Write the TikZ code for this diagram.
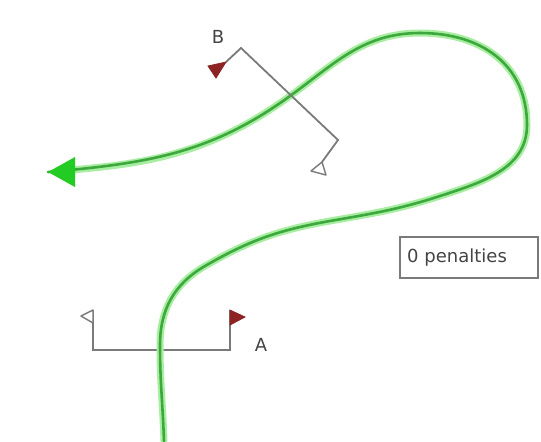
\documentclass[tikz,border=0pt]{standalone}
\usepackage{fontspec}
\setmainfont{DejaVu Sans}
\usetikzlibrary{arrows.meta}
\definecolor{railgray}{HTML}{7A7A7A}
\definecolor{flagred}{HTML}{8E2323}
\definecolor{pathglow}{HTML}{A8EEA0}
\definecolor{pathcore}{HTML}{3DA83D}
\definecolor{tipgreen}{HTML}{22CC22}
\definecolor{textgray}{HTML}{444444}

\begin{document}
\begin{tikzpicture}[x=0.5pt, y=-0.5pt, font=\fontsize{9}{11}\selectfont,
    rail/.style={railgray, line width=0.9pt, line join=miter},
    redflag/.style={fill=flagred, draw=flagred, line width=0.4pt},
    openflag/.style={fill=white, draw=railgray, line width=0.7pt, line join=round}]
    \fill[white] (0,0) rectangle (541,441);
    \useasboundingbox (0,0) rectangle (541,441);
    % gate A
    \coordinate (A1) at (93,310);
    \coordinate (A2) at (93,350);
    \coordinate (A3) at (230,350);
    \coordinate (A4) at (230,310);
    \draw[rail] (A1) -- (A2) -- (A3) -- (A4);
    \draw[openflag] (A1) -- (81,316) -- (93,323) -- cycle;
    \draw[redflag] (A4) -- (245,317) -- (230,325) -- cycle;
    \node[textgray] (labA) at (261,345) {A};
    % driven path
    \coordinate (P0) at (164,441);
    \coordinate (P1) at (160,345);
    \coordinate (P2) at (205,266);
    \coordinate (P3) at (330,221);
    \coordinate (P4) at (440,196);
    \coordinate (P5) at (527,125);
    \coordinate (P6) at (420,33);
    \coordinate (P7) at (290,96);
    \coordinate (P8) at (48,172);
    \foreach \w/\c/\s in {3.5pt/pathglow/12pt, 1.3pt/pathcore/0pt} {
        \draw[\c, line width=\w, line cap=round, shorten >=\s]
            (P0) to[out=92, in=270] (P1) to[out=90, in=210] (P2)
            to[out=30, in=190] (P3) to[out=10, in=198] (P4)
            to[out=18, in=270] (P5) to[out=90, in=0, looseness=1.1] (P6)
            to[out=180, in=36] (P7) to[out=216, in=5] (P8);
    }
    \fill[tipgreen] (P8) -- ++(27,-15) -- ++(0,30) -- cycle;
    % gate B
    \coordinate (B1) at (226,62);
    \coordinate (B2) at (241,48);
    \coordinate (B3) at (338,140);
    \coordinate (B4) at (322,162);
    \draw[rail] (B1) -- (B2) -- (B3) -- (B4);
    \draw[redflag] (B1) -- (208,66) -- (216,78) -- cycle;
    \draw[openflag] (B4) -- (311,171) -- (326,175) -- cycle;
    \node[textgray] (labB) at (218,37) {B};
    % penalty counter
    \node[draw=railgray, line width=0.8pt, text=textgray, minimum width=69pt,
        minimum height=20.5pt, text width=62pt, inner xsep=3.5pt, align=left]
        (pen) at (469,257.5) {0 penalties};
\end{tikzpicture}
\end{document}
